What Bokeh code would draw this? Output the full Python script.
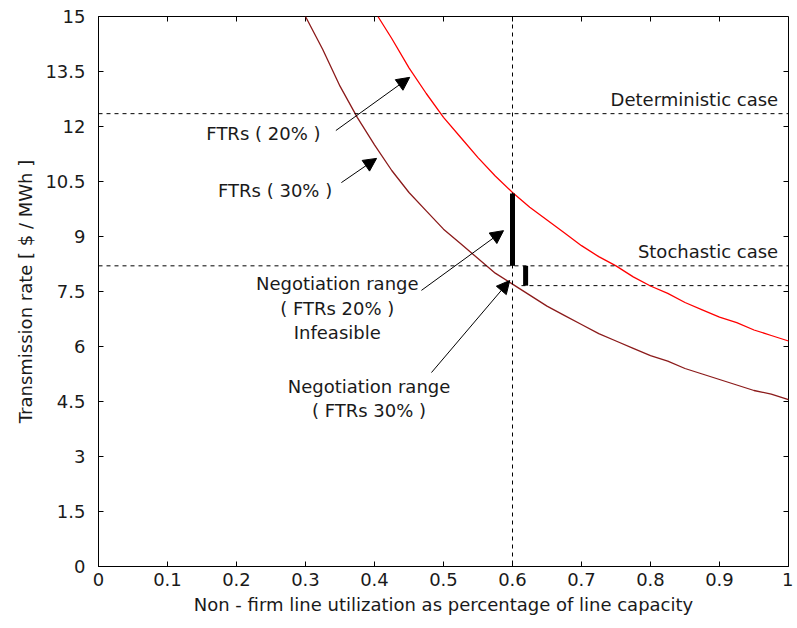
from bokeh.plotting import figure
from bokeh.models import Range1d, FixedTicker, Arrow, NormalHead, Label, Span
from bokeh.embed import file_html
from bokeh.resources import INLINE

# FTRs 20% curve (red)
x20 = [0.405, 0.425, 0.45, 0.475, 0.50, 0.525, 0.55, 0.575, 0.60, 0.625, 0.65, 0.675, 0.70,
       0.725, 0.75, 0.775, 0.80, 0.825, 0.85, 0.875, 0.90, 0.925, 0.95, 0.975, 1.00]
y20 = [15.0, 14.4, 13.6, 12.9, 12.25, 11.7, 11.15, 10.65, 10.2, 9.8, 9.45, 9.1, 8.75,
       8.45, 8.2, 7.9, 7.65, 7.45, 7.2, 7.0, 6.8, 6.65, 6.45, 6.3, 6.15]
# FTRs 30% curve (dark red)
x30 = [0.30, 0.325, 0.35, 0.375, 0.40, 0.425, 0.45, 0.475, 0.50, 0.525, 0.55, 0.575, 0.60,
       0.625, 0.65, 0.675, 0.70, 0.725, 0.75, 0.775, 0.80, 0.825, 0.85, 0.875, 0.90, 0.925,
       0.95, 0.975, 1.00]
y30 = [15.0, 14.1, 13.1, 12.25, 11.5, 10.8, 10.2, 9.7, 9.2, 8.8, 8.4, 8.0, 7.7,
       7.4, 7.1, 6.85, 6.6, 6.35, 6.15, 5.95, 5.75, 5.6, 5.4, 5.25, 5.1, 4.95,
       4.8, 4.7, 4.55]

deterministic_rate = 12.35
stochastic_rate = 8.2
ftr30_low_rate = 7.66
utilization = 0.6
bar20 = [0.6, 8.2, 10.17]
bar30 = [0.619, 7.66, 8.2]

x_ticks = [0, 0.1, 0.2, 0.3, 0.4, 0.5, 0.6, 0.7, 0.8, 0.9, 1]
y_ticks = [0, 1.5, 3, 4.5, 6, 7.5, 9, 10.5, 12, 13.5, 15]
x_tick_labels = {0: "0", 0.1: "0.1", 0.2: "0.2", 0.3: "0.3", 0.4: "0.4", 0.5: "0.5",
                 0.6: "0.6", 0.7: "0.7", 0.8: "0.8", 0.9: "0.9", 1: "1"}
y_tick_labels = {0: "0", 1.5: "1.5", 3: "3", 4.5: "4.5", 6: "6", 7.5: "7.5", 9: "9",
                 10.5: "10.5", 12: "12", 13.5: "13.5", 15: "15"}

FONT = "DejaVu Sans"
FS = "18px"
TXT = "#1a1a1a"

p = figure(width=793, height=620, output_backend="svg", toolbar_location=None,
           x_range=Range1d(0, 1), y_range=Range1d(0, 15),
           min_border_left=98, min_border_right=5, min_border_top=16, min_border_bottom=54)
p.xgrid.visible = False
p.ygrid.visible = False
p.outline_line_color = "black"
p.outline_line_width = 1

for ax, ticks, labels in ((p.xaxis[0], x_ticks, x_tick_labels), (p.yaxis[0], y_ticks, y_tick_labels)):
    ax.ticker = FixedTicker(ticks=ticks)
    ax.major_label_overrides = labels
    ax.minor_tick_line_color = None
    ax.major_tick_in = 5
    ax.major_tick_out = 0
    ax.major_label_text_font = FONT
    ax.major_label_text_font_size = FS
    ax.major_label_text_color = TXT
    ax.axis_label_text_font = FONT
    ax.axis_label_text_font_size = FS
    ax.axis_label_text_font_style = "normal"
    ax.axis_label_text_color = TXT
    ax.axis_line_color = "black"

p.xaxis[0].axis_label = "Non - firm line utilization as percentage of line capacity"
p.yaxis[0].axis_label = "Transmission rate [ $ / MWh ]"
p.xaxis[0].major_label_standoff = 6
p.xaxis[0].axis_label_standoff = 5
p.yaxis[0].major_label_standoff = 13
p.yaxis[0].axis_label_standoff = 6

# box ticks on top and right sides (inward, like the bottom/left axes)
tick_len_y = 5 * 15 / 550.0
tick_len_x = 5 * 1 / 690.0
p.segment(x0=x_ticks, y0=[15] * len(x_ticks), x1=x_ticks, y1=[15 - tick_len_y] * len(x_ticks),
          line_color="black", line_width=1)
p.segment(x0=[1] * len(y_ticks), y0=y_ticks, x1=[1 - tick_len_x] * len(y_ticks), y1=y_ticks,
          line_color="black", line_width=1)

# reference lines
p.add_layout(Span(location=deterministic_rate, dimension="width", line_dash="4 4",
                  line_color="black", line_width=1))
p.add_layout(Span(location=stochastic_rate, dimension="width", line_dash="4 4",
                  line_color="black", line_width=1))
p.add_layout(Span(location=utilization, dimension="height", line_dash="4 4",
                  line_color="black", line_width=1))
p.segment(x0=[0.613], y0=[ftr30_low_rate], x1=[1.0], y1=[ftr30_low_rate],
          line_dash="4 4", line_color="black", line_width=1)

# curves
p.line(x20, y20, line_color="#ff0000", line_width=1.3)
p.line(x30, y30, line_color="#8b1a1a", line_width=1.3)

# negotiation bars
p.segment(x0=[bar20[0]], y0=[bar20[1]], x1=[bar20[0]], y1=[bar20[2]], line_color="black", line_width=5)
p.segment(x0=[bar30[0]], y0=[bar30[1]], x1=[bar30[0]], y1=[bar30[2]], line_color="black", line_width=5)

# annotations
def arrow(x0, y0, x1, y1):
    p.add_layout(Arrow(end=NormalHead(size=13, fill_color="black", line_color="black"),
                       x_start=x0, y_start=y0, x_end=x1, y_end=y1,
                       line_color="black", line_width=1))

arrow(0.344, 11.89, 0.451, 13.34)
arrow(0.352, 10.47, 0.403, 11.13)
arrow(0.468, 7.53, 0.587, 9.16)
arrow(0.4826, 5.29, 0.596, 7.8)

def label(x, y, text, align="center"):
    p.add_layout(Label(x=x, y=y, text=text, text_font=FONT, text_font_size=FS,
                       text_align=align, text_baseline="middle", text_color=TXT))

label(0.239, 11.8, "FTRs ( 20% )")
label(0.256, 10.25, "FTRs ( 30% )")
label(0.346, 7.72, "Negotiation range")
label(0.346, 7.04, "( FTRs 20% )")
label(0.346, 6.38, "Infeasible")
label(0.392, 4.9, "Negotiation range")
label(0.392, 4.26, "( FTRs 30% )")
label(0.985, 12.75, "Deterministic case", align="right")
label(0.985, 8.6, "Stochastic case", align="right")

open("out.html", "w").write(file_html(p, INLINE))
